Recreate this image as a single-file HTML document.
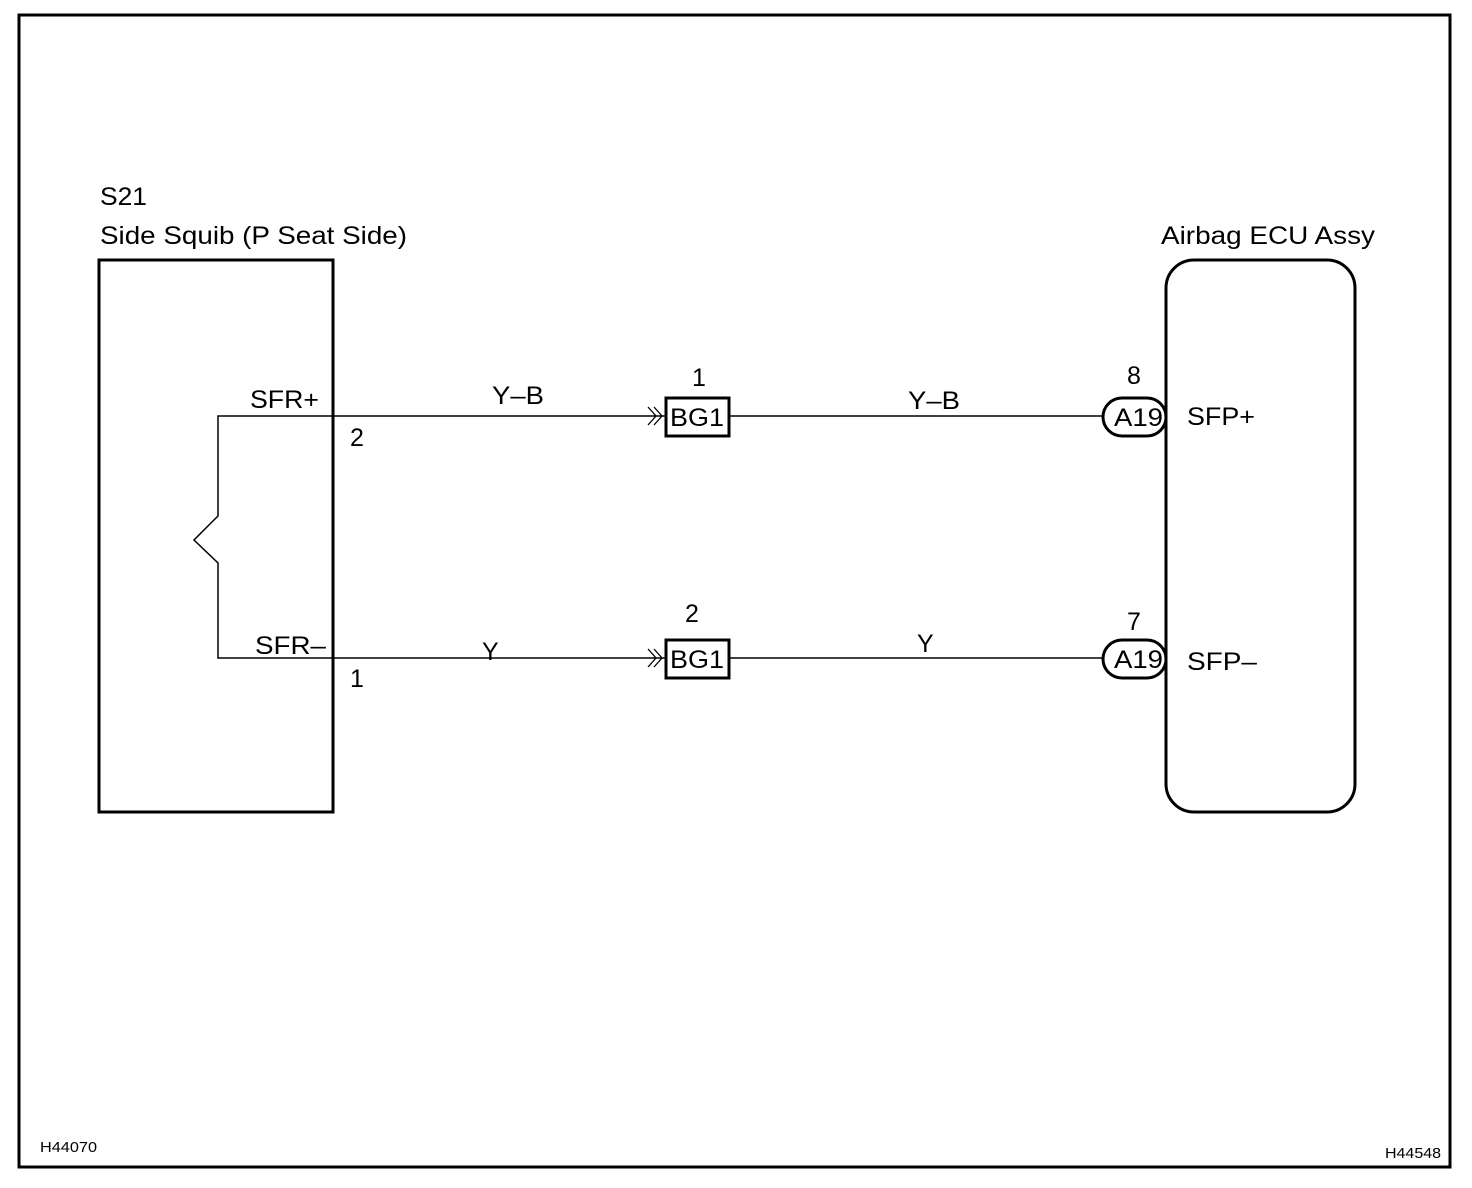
<!DOCTYPE html>
<html><head><meta charset="utf-8"><style>
html,body{margin:0;padding:0;background:#fff}
svg{display:block}
text{font-family:"Liberation Sans",Arial,sans-serif;fill:#000}
</style></head><body>
<svg width="1472" height="1188" viewBox="0 0 1472 1188" xmlns="http://www.w3.org/2000/svg">
<rect x="19" y="15" width="1431" height="1152" fill="none" stroke="#000" stroke-width="3"/>
<rect x="99" y="260" width="234" height="552" fill="none" stroke="#000" stroke-width="3"/>
<polyline points="665,416 218,416 218,516 194,540 218,563 218,658 665,658" fill="none" stroke="#000" stroke-width="1.5"/>
<polyline points="648,407 656,416 648,425" fill="none" stroke="#000" stroke-width="1.3"/>
<polyline points="654,407 662,416 654,425" fill="none" stroke="#000" stroke-width="1.3"/>
<polyline points="648,649 656,658 648,667" fill="none" stroke="#000" stroke-width="1.3"/>
<polyline points="654,649 662,658 654,667" fill="none" stroke="#000" stroke-width="1.3"/>
<rect x="666" y="398" width="63" height="38" fill="#fff" stroke="#000" stroke-width="3"/>
<rect x="666" y="640" width="63" height="38" fill="#fff" stroke="#000" stroke-width="3"/>
<line x1="730" y1="416" x2="1103" y2="416" stroke="#000" stroke-width="1.5"/>
<line x1="730" y1="658" x2="1103" y2="658" stroke="#000" stroke-width="1.5"/>
<rect x="1166" y="260" width="189" height="552" rx="28" fill="none" stroke="#000" stroke-width="3"/>
<rect x="1103" y="398" width="63" height="38" rx="19" fill="#fff" stroke="#000" stroke-width="3"/>
<rect x="1103" y="640" width="63" height="38" rx="19" fill="#fff" stroke="#000" stroke-width="3"/>
<g font-size="25" lengthAdjust="spacingAndGlyphs">
<text x="100" y="205" textLength="47" lengthAdjust="spacingAndGlyphs">S21</text>
<text x="100" y="244" textLength="307" lengthAdjust="spacingAndGlyphs">Side Squib (P Seat Side)</text>
<text x="1161" y="244" textLength="214" lengthAdjust="spacingAndGlyphs">Airbag ECU Assy</text>
<text x="250" y="408" textLength="69" lengthAdjust="spacingAndGlyphs">SFR+</text>
<text x="350" y="446">2</text>
<text x="492" y="404" textLength="52" lengthAdjust="spacingAndGlyphs">Y–B</text>
<text x="692" y="386">1</text>
<text x="670" y="426" textLength="54" lengthAdjust="spacingAndGlyphs">BG1</text>
<text x="908" y="409" textLength="52" lengthAdjust="spacingAndGlyphs">Y–B</text>
<text x="1127" y="384">8</text>
<text x="1114" y="426" textLength="49" lengthAdjust="spacingAndGlyphs">A19</text>
<text x="1187" y="425" textLength="68" lengthAdjust="spacingAndGlyphs">SFP+</text>
<text x="255" y="654" textLength="71" lengthAdjust="spacingAndGlyphs">SFR–</text>
<text x="350" y="687">1</text>
<text x="482" y="660">Y</text>
<text x="685" y="622">2</text>
<text x="670" y="668" textLength="54" lengthAdjust="spacingAndGlyphs">BG1</text>
<text x="917" y="652">Y</text>
<text x="1127" y="630">7</text>
<text x="1114" y="668" textLength="49" lengthAdjust="spacingAndGlyphs">A19</text>
<text x="1187" y="670" textLength="70" lengthAdjust="spacingAndGlyphs">SFP–</text>
</g>
<text x="40" y="1152" font-size="15" textLength="57" lengthAdjust="spacingAndGlyphs">H44070</text>
<text x="1385" y="1158" font-size="15" textLength="56" lengthAdjust="spacingAndGlyphs">H44548</text>
</svg>
</body></html>
